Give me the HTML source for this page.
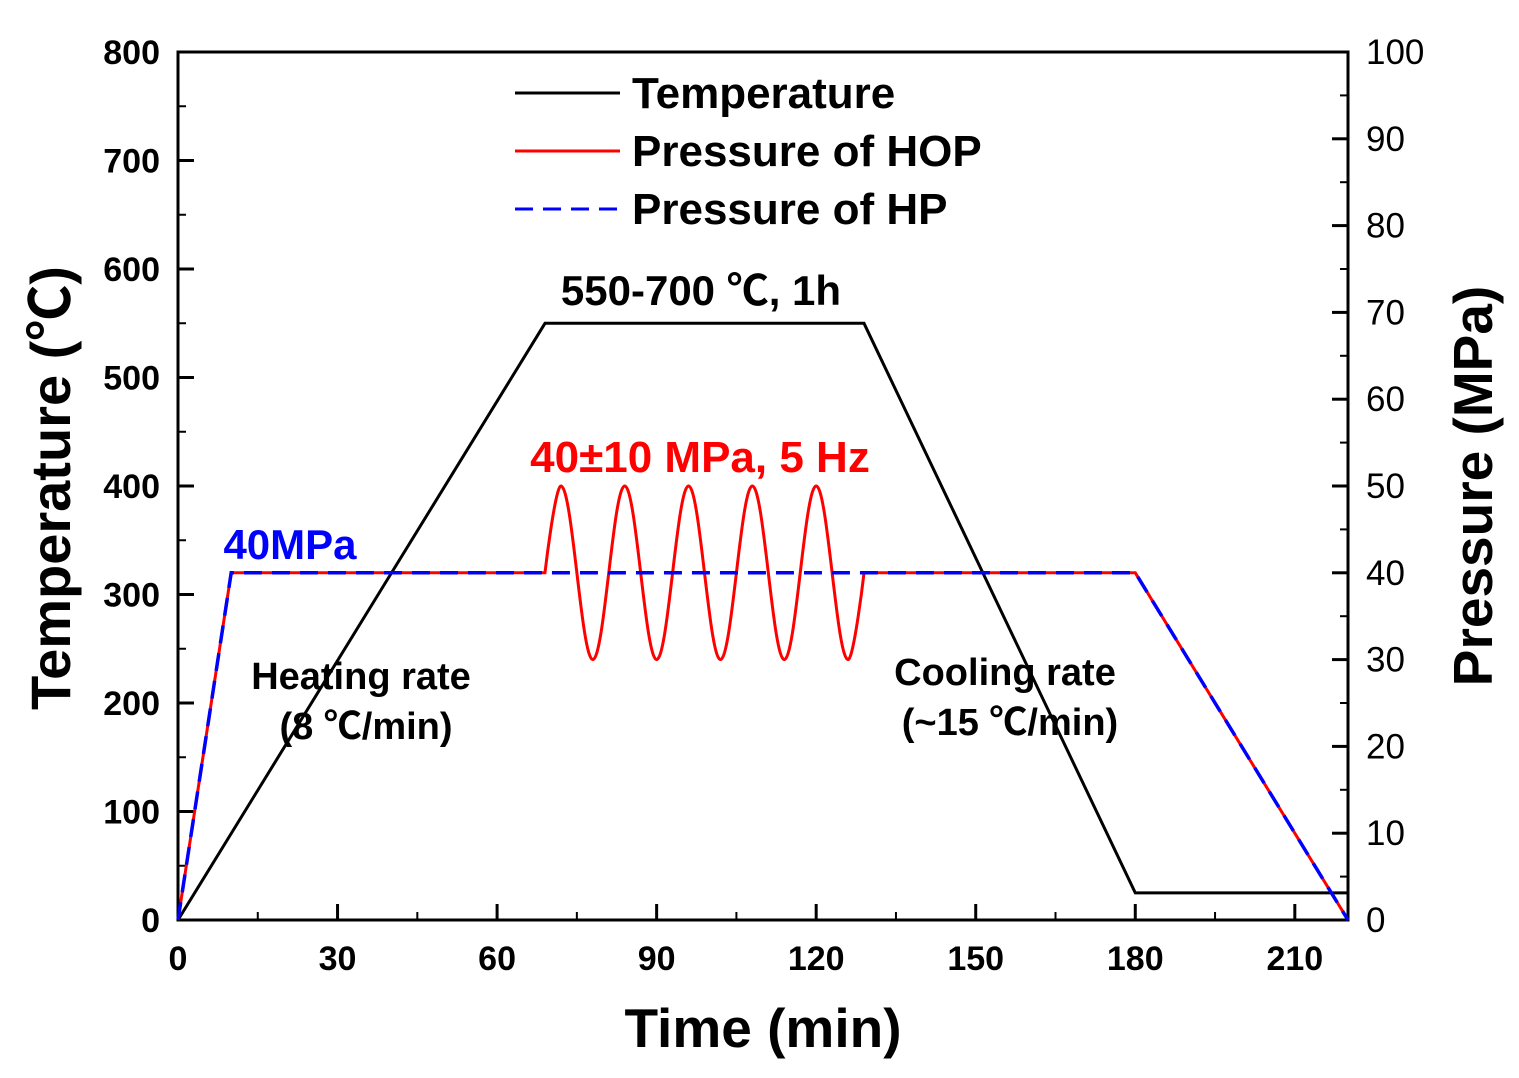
<!DOCTYPE html>
<html><head><meta charset="utf-8"><style>
body{margin:0;background:#fff}
svg text{font-family:"Liberation Sans","Noto Sans CJK SC",sans-serif;font-weight:bold}
svg text.reg{font-weight:normal}
</style></head><body>
<svg id="chart" width="1519" height="1073" viewBox="0 0 1519 1073" xmlns="http://www.w3.org/2000/svg">
<g id="g"></g>
</svg>
<script>
const xTicks=[0,30,60,90,120,150,180,210];
const yTicksL=[0,100,200,300,400,500,600,700,800];
const yTicksR=[0,10,20,30,40,50,60,70,80,90,100];
const tempT=[0,69,129,180,220];
const tempV=[0,550,550,25,25];
const hopT1=[0,10,69];
const hopV1=[0,40,40];
const oscT=[69,72,78,84,90,96,102,108,114,120,126,129];
const oscV=[40,50,30,50,30,50,30,50,30,50,30,40];
const hopT2=[129,180,220];
const hopV2=[40,40,0];
const hpT=[0,10,180,220];
const hpV=[0,40,40,0];

const L=178,R=1348,T=52,B=920;
const X=t=>L+(t/220)*(R-L);
const YL=v=>B-(v/800)*(B-T);
const YR=v=>B-(v/100)*(B-T);
const NS="http://www.w3.org/2000/svg";
const g=document.getElementById('g');
function mk(tag,attrs,parent){const e=document.createElementNS(NS,tag);for(const k in attrs)e.setAttribute(k,attrs[k]);(parent||g).appendChild(e);return e;}
function txt(s,x,y,size,anchor,fill,extra){const e=mk('text',Object.assign({x:x,y:y,'font-size':size,'text-anchor':anchor||'middle',fill:fill||'#000'},extra||{}));e.textContent=s;return e;}

const frame=mk('rect',{x:L,y:T,width:R-L,height:B-T,fill:'none',stroke:'#000','stroke-width':3});



xTicks.forEach(t=>{
  const l=mk('line',{x1:X(t),x2:X(t),y1:B,y2:B-16,stroke:'#000','stroke-width':3});
  
  
  const tx=txt(String(t),X(t),970,34);
  
  
});
for(let t=15;t<220;t+=30){const l=mk('line',{x1:X(t),x2:X(t),y1:B,y2:B-8,stroke:'#000','stroke-width':2});}
yTicksL.forEach(v=>{
  const l=mk('line',{x1:L,x2:L+16,y1:YL(v),y2:YL(v),stroke:'#000','stroke-width':3});
  
  
  const tx=txt(String(v),160,YL(v)+12,34,'end');
  
  
  if(v<800){const m=mk('line',{x1:L,x2:L+8,y1:YL(v+50),y2:YL(v+50),stroke:'#000','stroke-width':2});}
});
yTicksR.forEach(v=>{
  const l=mk('line',{x1:R,x2:R-16,y1:YR(v),y2:YR(v),stroke:'#000','stroke-width':3});
  
  
  const tx=txt(String(v),1366,YR(v)+12,35,'start','#000',{'class':'reg'});
  
  
  if(v<100){const m=mk('line',{x1:R,x2:R-8,y1:YR(v+5),y2:YR(v+5),stroke:'#000','stroke-width':2});}
});

function poly(ts,vs,Y){return ts.map((t,i)=>X(t).toFixed(1)+','+Y(vs[i]).toFixed(1)).join(' ');}
const tl=mk('polyline',{points:poly(tempT,tempV,YL),fill:'none',stroke:'#000','stroke-width':3});


let d='M'+hopT1.map((t,i)=>X(t)+','+YR(hopV1[i])).join(' L');
d+=' L'+X(oscT[0])+','+YR(oscV[0]);
for(let i=1;i<oscT.length;i++){
  const x0=X(oscT[i-1]),x1=X(oscT[i]),y0=YR(oscV[i-1]),y1=YR(oscV[i]);
  const k=(x1-x0)*0.36;
  const c1x=(i===1)?x0:x0+k, c2x=(i===oscT.length-1)?x1:x1-k;
  d+=` C${c1x},${y0} ${c2x},${y1} ${x1},${y1}`;
}
d+=' L'+hopT2.slice(1).map((t,i)=>X(t)+','+YR(hopV2[i+1])).join(' L');
const hop=mk('path',{d:d,fill:'none',stroke:'#ff0000','stroke-width':3});


const hp=mk('polyline',{points:poly(hpT,hpV,YR),fill:'none',stroke:'#0000ff','stroke-width':3.5,'stroke-dasharray':'18,10'});



const leg=[['Temperature','#000',null,93],['Pressure of HOP','#ff0000',null,151],['Pressure of HP','#0000ff','18,10',209]];
leg.forEach(e=>{
  const l=mk('line',{x1:515,x2:620,y1:e[3],y2:e[3],stroke:e[1],'stroke-width':3});
  if(e[2])l.setAttribute('stroke-dasharray',e[2]);
  
  
  const tx=txt(e[0],632,e[3]+15,44,'start');
  
  
});

const a=[['550-700 ℃, 1h',701,305,42,'#000'],['40±10 MPa, 5 Hz',700,472,44,'#ff0000'],['40MPa',290,559,42,'#0000ff'],
['Heating rate',361,689,38,'#000'],['(8 ℃/min)',366,739,38,'#000'],['Cooling rate',1005,685,38,'#000'],['(~15 ℃/min)',1010,735,38,'#000']];
a.forEach(e=>{const tx=txt(e[0],e[1],e[2],e[3],'middle',e[4]);});

let t1=txt('Time (min)',763,1047,55);


let t2=txt('Temperature (℃)',0,0,56,'middle','#000',{transform:'translate(70,488) rotate(-90)'});


let t3=txt('Pressure (MPa)',0,0,55,'middle','#000',{transform:'translate(1492,486) rotate(-90)'});


</script>
</body></html>
